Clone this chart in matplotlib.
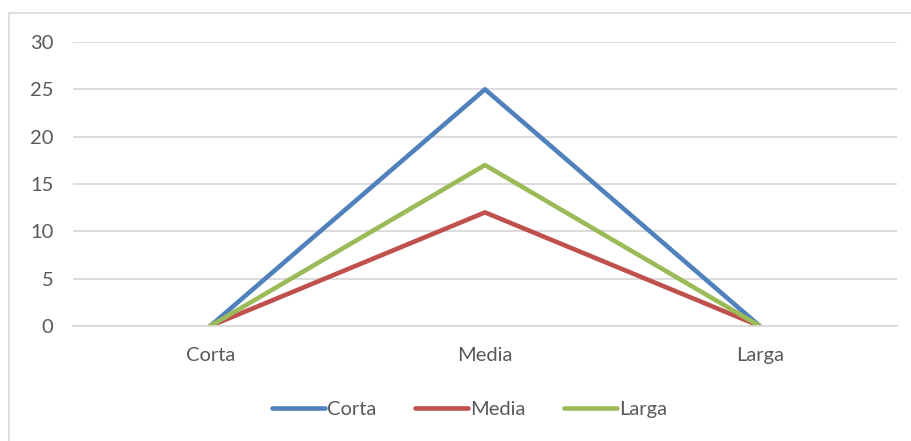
import matplotlib.pyplot as plt
from matplotlib.lines import Line2D

categorias = ["Corta", "Media", "Larga"]
corta = [0, 25, 0]
media = [0, 12, 0]
larga = [0, 17, 0]
yticks = [0, 5, 10, 15, 20, 25, 30]

plt.rcParams["font.family"] = ["Lato", "DejaVu Sans"]
texto = "#595959"

fig = plt.figure(figsize=(9.12, 4.41), dpi=100)
ax = fig.add_axes([0.080, 0.2608, 0.9036, 0.644])

x = range(len(categorias))
ax.plot(x, corta, color="#4F81BD", lw=3.3, label="Corta", solid_capstyle="round")
ax.plot(x, media, color="#C0504D", lw=3.3, label="Media", solid_capstyle="round")
ax.plot(x, larga, color="#9BBB59", lw=3.3, label="Larga", solid_capstyle="round")

ax.set_xlim(-0.5, 2.5)
ax.set_ylim(0, 30)
ax.set_yticks(yticks)
ax.set_xticks(list(x))
ax.set_xticklabels(categorias)
ax.yaxis.grid(True, color="#d9d9d9", lw=1.3)
ax.set_axisbelow(True)
for s in ["top", "right", "left"]:
    ax.spines[s].set_visible(False)
ax.spines["bottom"].set_color("#d9d9d9")
ax.spines["bottom"].set_linewidth(1.3)
ax.tick_params(axis="both", length=0, colors=texto, labelsize=14.5)
ax.tick_params(axis="y", pad=14)
ax.tick_params(axis="x", pad=15)

ax.legend(loc="center", bbox_to_anchor=(0.515, 0.072), bbox_transform=fig.transFigure,
          ncol=3, frameon=False, fontsize=14.5, labelcolor=texto,
          handlelength=2.65, handletextpad=0.1, columnspacing=1.9)

# marco del gráfico
fig.add_artist(Line2D([9, 9, 912], [0, 428, 428], transform=None,
                      color="#d9d9d9", lw=1.2))

fig.savefig("out.png", dpi=100)
